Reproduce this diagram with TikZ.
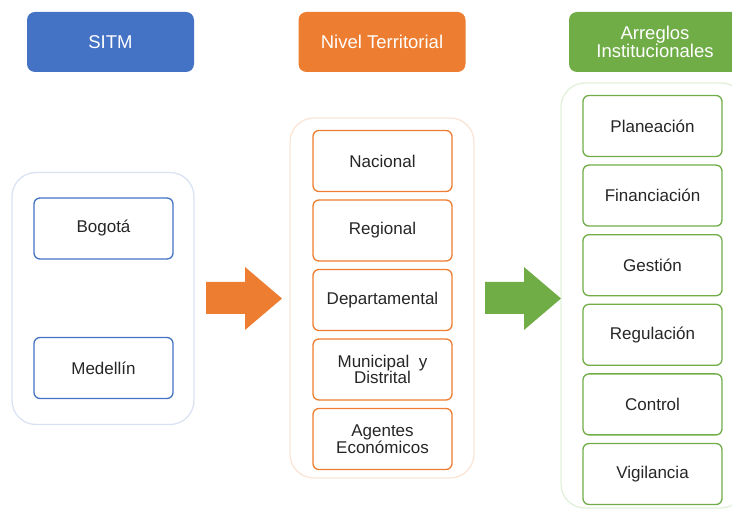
\documentclass[tikz,border=0pt]{standalone}
\usepackage{fontspec}
\setmainfont{Liberation Sans}
\definecolor{azul}{HTML}{4472C4}
\definecolor{naranja}{HTML}{ED7D31}
\definecolor{verde}{HTML}{70AD47}
\definecolor{azulclaro}{HTML}{DAE3F3}
\definecolor{naranjaclaro}{HTML}{FBE5D6}
\definecolor{verdeclaro}{HTML}{E2F0D9}
\definecolor{texto}{HTML}{262626}
\begin{document}
\begin{tikzpicture}[x=1pt,y=-1pt,
		titulo/.style={rectangle,rounded corners=8pt,minimum width=167pt,minimum height=60pt,text=white,font=\fontsize{18.5}{18}\selectfont,align=center},
		grupo/.style={rectangle,rounded corners=24pt,line width=1.3pt},
		caja/.style={rectangle,rounded corners=6pt,line width=1.3pt,fill=white,minimum width=139pt,minimum height=61pt,text=texto,font=\fontsize{17}{16.5}\selectfont,align=center}]
			\clip (0,0) rectangle (732,510);
			% encabezados
			\node[titulo,fill=azul] (sitm) at (110.5,42) {SITM};
			\node[titulo,fill=naranja] (nivel) at (382,42) {Nivel Territorial};
			\node[titulo,fill=verde,minimum width=172pt] (arreglos) at (655,42) {Arreglos\\Institucionales};
			% contenedores
			\node[grupo,draw=azulclaro,minimum width=182pt,minimum height=252pt] (ciudades) at (103,298.5) {};
			\node[grupo,draw=naranjaclaro,minimum width=184pt,minimum height=360pt] (niveles) at (382,298) {};
			\node[grupo,draw=verdeclaro,minimum width=184pt,minimum height=425pt] (funciones) at (653,295.5) {};
			% ciudades
			\node[caja,draw=azul] (bogota) at (103.5,228.5) {Bogotá};
			\node[caja,draw=azul] (medellin) at (103.5,368) {Medellín};
			% niveles territoriales
			\foreach \nombre/\etiqueta [count=\i from 0] in {nacional/Nacional,regional/Regional,departamental/Departamental,municipal/{Municipal\ \ y\\Distrital},agentes/{Agentes\\Económicos}}
				\node[caja,draw=naranja] (\nombre) at (382.5,161+69.5*\i) {\etiqueta};
			% arreglos institucionales
			\foreach \nombre/\etiqueta [count=\i from 0] in {planeacion/Planeación,financiacion/Financiación,gestion/Gestión,regulacion/Regulación,control/Control,vigilancia/Vigilancia}
				\node[caja,draw=verde] (\nombre) at (652.5,126+69.6*\i) {\etiqueta};
			% flechas
			\fill[naranja] (206,282) -- (245,282) -- (245,267) -- (282,298.5) -- (245,330) -- (245,314) -- (206,314) -- cycle;
			\fill[verde] (485,282) -- (524,282) -- (524,267) -- (561,298.5) -- (524,330) -- (524,314) -- (485,314) -- cycle;
		\end{tikzpicture}
\end{document}
